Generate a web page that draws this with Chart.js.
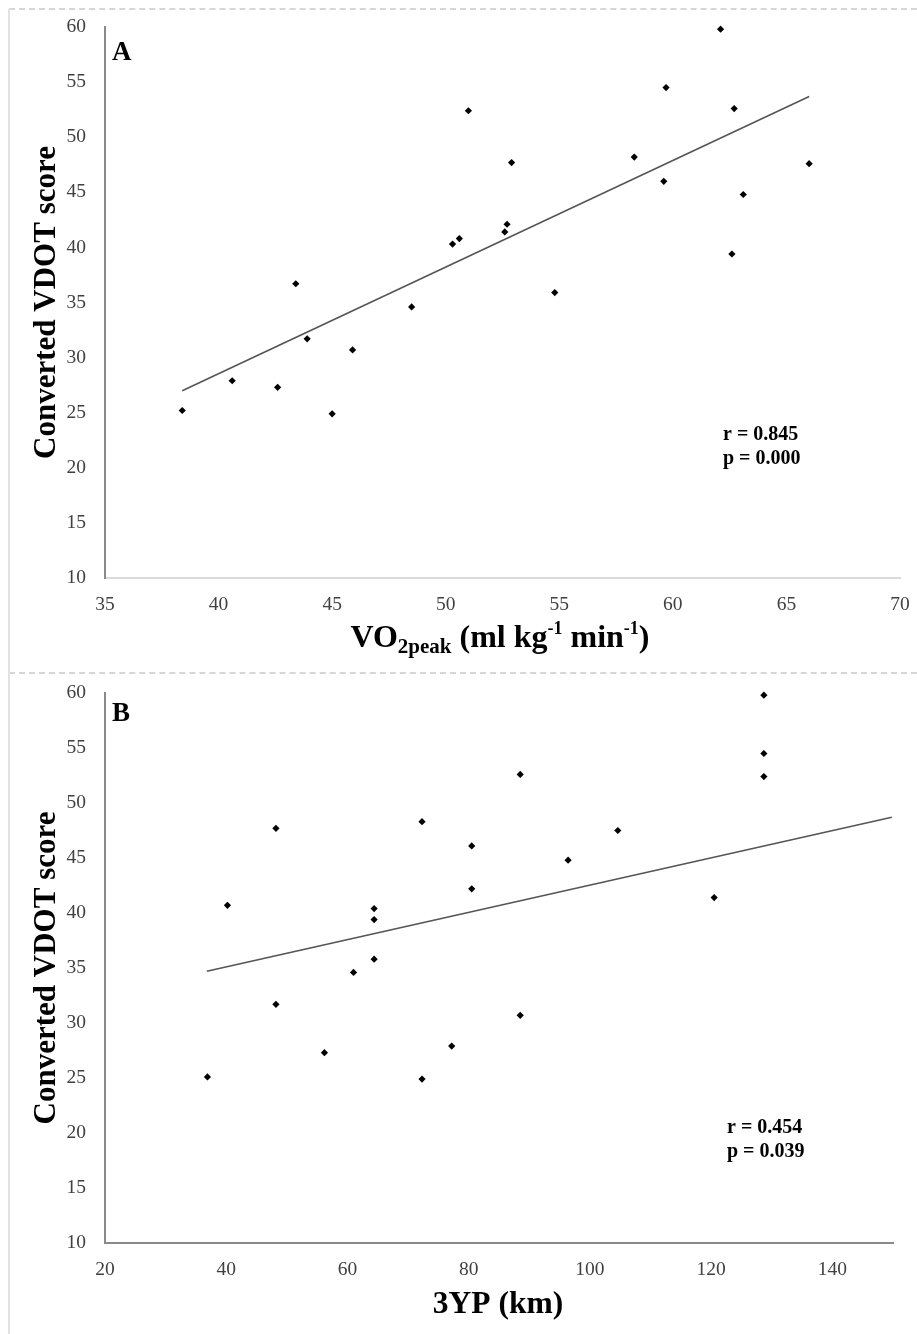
<!DOCTYPE html>
<html><head><meta charset="utf-8">
<script src="https://cdn.jsdelivr.net/npm/chart.js@4.4.0/dist/chart.umd.min.js"></script>
<style>
html,body{margin:0;padding:0;background:#fff;}
body{width:917px;height:1334px;position:relative;overflow:hidden;}
#wa{position:absolute;left:0;top:0;width:917px;height:668px;}
#wb{position:absolute;left:0;top:673px;width:917px;height:661px;}
.dash{position:absolute;border-top:2px dashed #d6d6d6;}
.vl{position:absolute;border-left:2px solid #e2e2e2;}
</style></head><body>
<div class="dash" style="left:9px;top:8px;width:908px"></div>
<div class="dash" style="left:9px;top:672px;width:908px"></div>
<div class="vl" style="left:8px;top:9px;height:1325px"></div>
<div id="wa"><canvas id="ca"></canvas></div>
<div id="wb"><canvas id="cb"></canvas></div>
<script>
// ---- Panel A: VO2peak vs converted VDOT ----
const vo2peak = [38.4, 40.6, 42.6, 43.9, 43.4, 45.0, 45.9, 48.5, 50.3, 50.6, 51.0, 52.6, 52.7, 52.9, 54.8, 58.3, 59.6, 59.7, 62.1, 62.6, 62.7, 63.1, 66.0];
const vdotA   = [25.2, 27.9, 27.3, 31.7, 36.7, 24.9, 30.7, 34.6, 40.3, 40.8, 52.4, 41.4, 42.1, 47.7, 35.9, 48.2, 46.0, 54.5, 59.8, 39.4, 52.6, 44.8, 47.6];
const trendAx = [38.4, 66.0];
const trendAy = [27.0, 53.7];
// ---- Panel B: 3YP vs converted VDOT ----
const yp3   = [40.2, 48.2, 72.3, 80.5, 80.5, 64.4, 64.4, 64.4, 61.0, 48.2, 56.2, 36.9, 72.3, 77.2, 88.5, 88.5, 96.4, 104.6, 120.5, 128.7, 128.7, 128.7];
const vdotB = [40.7, 47.7, 48.3, 46.1, 42.2, 40.4, 39.4, 35.8, 34.6, 31.7, 27.3, 25.1, 24.9, 27.9, 30.7, 52.6, 44.8, 47.5, 41.4, 59.8, 54.5, 52.4];
const trendBx = [36.8, 149.8];
const trendBy = [34.7, 48.7];
// ---- axis ticks / labels ----
const yTicks = [10, 15, 20, 25, 30, 35, 40, 45, 50, 55, 60];
const xTicksA = [35, 40, 45, 50, 55, 60, 65, 70];
const xTicksB = [20, 40, 60, 80, 100, 120, 140];
const yTitle = 'Converted VDOT score';
const statsA = ['r = 0.845', 'p = 0.000'];
const statsB = ['r = 0.454', 'p = 0.039'];

const SERIF = "'Liberation Serif', 'Times New Roman', serif";
const zip = (xs, ys) => xs.map((x, i) => ({x, y: ys[i]}));

function textPlugin(opts) {
  return {
    id: 'txt',
    afterDraw(chart) {
      const ctx = chart.ctx, a = chart.chartArea;
      ctx.save();
      ctx.fillStyle = '#000';
      // y title
      ctx.save();
      ctx.font = 'bold 31px ' + SERIF;
      ctx.textAlign = 'center';
      ctx.textBaseline = 'alphabetic';
      ctx.translate(55, (a.top + a.bottom) / 2);
      ctx.rotate(-Math.PI / 2);
      ctx.fillText(yTitle, 0, 0);
      ctx.restore();
      // panel letter
      ctx.font = 'bold 27px ' + SERIF;
      ctx.textAlign = 'left';
      ctx.fillText(opts.letter, 112, opts.letterY);
      // stats
      ctx.font = 'bold 20px ' + SERIF;
      ctx.fillText(opts.stats[0], opts.statX, opts.statY);
      ctx.fillText(opts.stats[1], opts.statX, opts.statY + 24);
      // x title (runs with sub/superscripts)
      const runs = opts.xTitle;
      let total = 0;
      runs.forEach(r => { ctx.font = 'bold ' + r.size + 'px ' + SERIF; r.w = ctx.measureText(r.t).width; total += r.w; });
      let x = opts.xTitleCx - total / 2;
      runs.forEach(r => {
        ctx.font = 'bold ' + r.size + 'px ' + SERIF;
        ctx.fillText(r.t, x, opts.xTitleY + (r.dy || 0));
        x += r.w;
      });
      ctx.restore();
    }
  };
}

function makeChart(id, cfg) {
  return new Chart(document.getElementById(id), {
    type: 'scatter',
    data: {
      datasets: [
        {
          data: zip(cfg.xs, cfg.ys),
          pointStyle: 'rectRot', pointRadius: 3.6, pointHoverRadius: 3.6,
          backgroundColor: '#000', borderColor: '#000', borderWidth: 0, clip: false
        },
        {
          type: 'line',
          data: zip(cfg.tx, cfg.ty),
          borderColor: '#555', borderWidth: 1.6, pointRadius: 0, fill: false, clip: false
        }
      ]
    },
    options: {
      responsive: true, maintainAspectRatio: false, animation: false,
      layout: {padding: {left: 0, right: cfg.padRight, top: cfg.padTop, bottom: 0}},
      plugins: {legend: {display: false}, tooltip: {enabled: false}},
      scales: {
        x: {
          type: 'linear', min: cfg.xTicks[0], max: cfg.xMax,
          afterFit: s => { s.height = cfg.xH; s.paddingLeft = 0; s.paddingRight = 0; },
          afterBuildTicks: s => { s.ticks = cfg.xTicks.map(v => ({value: v})); },
          grid: {display: false, drawTicks: false},
          border: {display: true, color: cfg.xAxisColor, width: 2},
          ticks: {padding: 15, color: '#404040', font: {family: SERIF, size: 19.5}}
        },
        y: {
          type: 'linear', min: 10, max: 60,
          afterFit: s => { s.width = 105; s.paddingTop = 0; s.paddingBottom = 0; },
          afterBuildTicks: s => { s.ticks = yTicks.map(v => ({value: v})); },
          grid: {display: false, drawTicks: false},
          border: {display: true, color: '#8a8a8a', width: 2},
          ticks: {padding: 19, color: '#404040', font: {family: SERIF, size: 19.5}}
        }
      }
    },
    plugins: [textPlugin(cfg.text)]
  });
}

makeChart('ca', {
  xs: vo2peak, ys: vdotA, tx: trendAx, ty: trendAy,
  xTicks: xTicksA, xMax: 70, xH: 90, padTop: 27, padRight: 17, xAxisColor: '#dadada',
  text: {
    letter: 'A', letterY: 60, stats: statsA, statX: 723, statY: 440,
    xTitleCx: 500, xTitleY: 647,
    xTitle: [
      {t: 'VO', size: 32}, {t: '2peak', size: 21, dy: 6}, {t: ' (ml kg', size: 32},
      {t: '-1', size: 18, dy: -13}, {t: ' min', size: 32}, {t: '-1', size: 18, dy: -13}, {t: ')', size: 32}
    ]
  }
});

makeChart('cb', {
  xs: yp3, ys: vdotB, tx: trendBx, ty: trendBy,
  xTicks: xTicksB, xMax: 150, xH: 91, padTop: 20, padRight: 24, xAxisColor: '#8a8a8a',
  text: {
    letter: 'B', letterY: 48, stats: statsB, statX: 727, statY: 460,
    xTitleCx: 498, xTitleY: 640,
    xTitle: [{t: '3YP (km)', size: 31.5}]
  }
});
</script>
</body></html>
